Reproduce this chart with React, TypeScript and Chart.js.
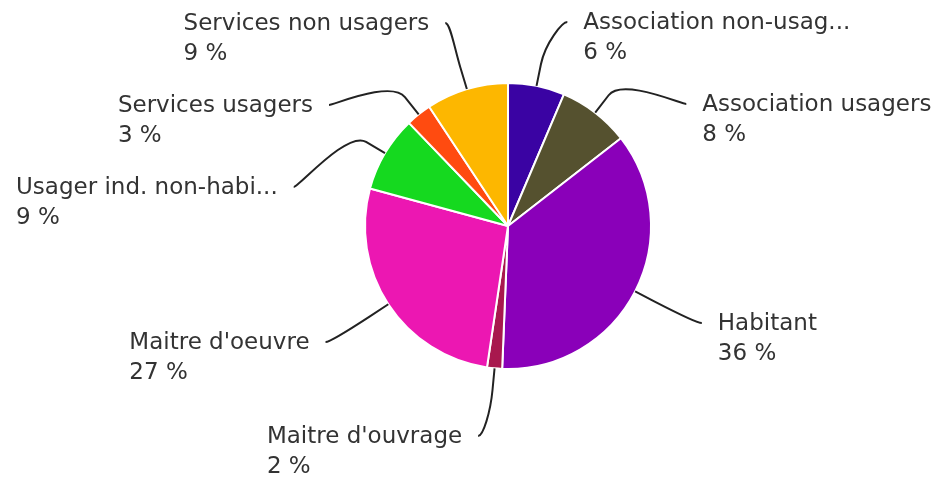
import React, { useEffect, useRef } from "react";
import { Chart, registerables } from "chart.js";

Chart.register(...registerables);

const categories = [
  "Association non-usag...",
  "Association usagers",
  "Habitant",
  "Maitre d'ouvrage",
  "Maitre d'oeuvre",
  "Usager ind. non-habi...",
  "Services usagers",
  "Services non usagers",
];
const values = [6.4, 8.1, 36.2, 1.7, 26.9, 8.6, 2.9, 9.3];
const colors = [
  "#3a03a3",
  "#55512f",
  "#8a00b9",
  "#a8184e",
  "#ec17b2",
  "#15d91f",
  "#ff4b10",
  "#fdb700",
];

const FONT = '23px "DejaVu Sans", sans-serif';
const TEXT_COLOR = "#333333";
const LINE_COLOR = "#222222";

const outsideLabels = {
  id: "outsideLabels",
  afterDraw(chart: any) {
    const meta = chart.getDatasetMeta(0);
    const arcs = meta.data;
    if (!arcs.length) return;
    const ctx = chart.ctx as CanvasRenderingContext2D;
    const data = chart.data.datasets[0].data as number[];
    const total = data.reduce((a, b) => a + b, 0);
    const cx = arcs[0].x;
    const cy = arcs[0].y;
    const R = arcs[0].outerRadius;
    const Dx = R + 75;
    const Dy = R + 69;
    const spacing = 82;
    const topMin = 22;
    const bottomMax = chart.height - 41;
    const gap = 16;
    const breakOffset = 22;

    const items = arcs.map((arc: any, i: number) => {
      const a = (arc.startAngle + arc.endAngle) / 2;
      const right = Math.cos(a) >= 0;
      return { i, a, right, y: cy + Math.sin(a) * Dy, x: 0 };
    });

    for (const side of [true, false]) {
      const list = items.filter((it: any) => it.right === side).sort((p: any, q: any) => p.y - q.y);
      let prev = -Infinity;
      for (const it of list) {
        it.y = Math.max(it.y, prev + spacing, topMin);
        prev = it.y;
      }
      let next = Infinity;
      for (let k = list.length - 1; k >= 0; k--) {
        const it = list[k];
        it.y = Math.min(it.y, next - spacing, bottomMax);
        next = it.y;
      }
      for (const it of list) {
        const t = (it.y - cy) / Dy;
        const dx = Dx * Math.sqrt(Math.max(0, 1 - t * t));
        it.x = side ? cx + dx : cx - dx;
      }
    }

    ctx.save();
    ctx.font = FONT;
    ctx.textBaseline = "middle";
    for (const it of items) {
      const S = { x: cx + Math.cos(it.a) * R, y: cy + Math.sin(it.a) * R };
      const B = {
        x: cx + Math.cos(it.a) * (R + breakOffset),
        y: cy + Math.sin(it.a) * (R + breakOffset),
      };
      ctx.beginPath();
      ctx.moveTo(it.x, it.y);
      ctx.bezierCurveTo(
        it.x + (it.right ? -5 : 5),
        it.y,
        2 * B.x - S.x,
        2 * B.y - S.y,
        B.x,
        B.y
      );
      ctx.lineTo(S.x, S.y);
      ctx.strokeStyle = LINE_COLOR;
      ctx.lineWidth = 2;
      ctx.stroke();

      const line1 = chart.data.labels[it.i] as string;
      const line2 = Math.round((data[it.i] / total) * 100) + " %";
      const w = Math.max(ctx.measureText(line1).width, ctx.measureText(line2).width);
      const x0 = it.right ? it.x + gap : it.x - gap - w;
      ctx.fillStyle = TEXT_COLOR;
      ctx.textAlign = "left";
      ctx.fillText(line1, x0, it.y + 1);
      ctx.fillText(line2, x0, it.y + 31);
    }
    ctx.restore();
  },
};

export default function App() {
  const ref = useRef<HTMLCanvasElement | null>(null);
  useEffect(() => {
    if (!ref.current) return;
    const chart = new Chart(ref.current, {
      type: "pie",
      data: {
        labels: categories,
        datasets: [
          {
            data: values,
            backgroundColor: colors,
            borderColor: "#ffffff",
            borderWidth: 2,
          },
        ],
      },
      options: {
        animation: false,
        responsive: true,
        maintainAspectRatio: false,
        events: [],
        layout: { padding: { left: 364, right: 284, top: 82, bottom: 107 } },
        plugins: {
          legend: { display: false },
          tooltip: { enabled: false },
        },
      },
      plugins: [outsideLabels],
    });
    return () => chart.destroy();
  }, []);
  return (
    <div style={{ position: "fixed", left: 0, top: 0, width: 936, height: 477, background: "#fff" }}>
      <canvas ref={ref} />
    </div>
  );
}
